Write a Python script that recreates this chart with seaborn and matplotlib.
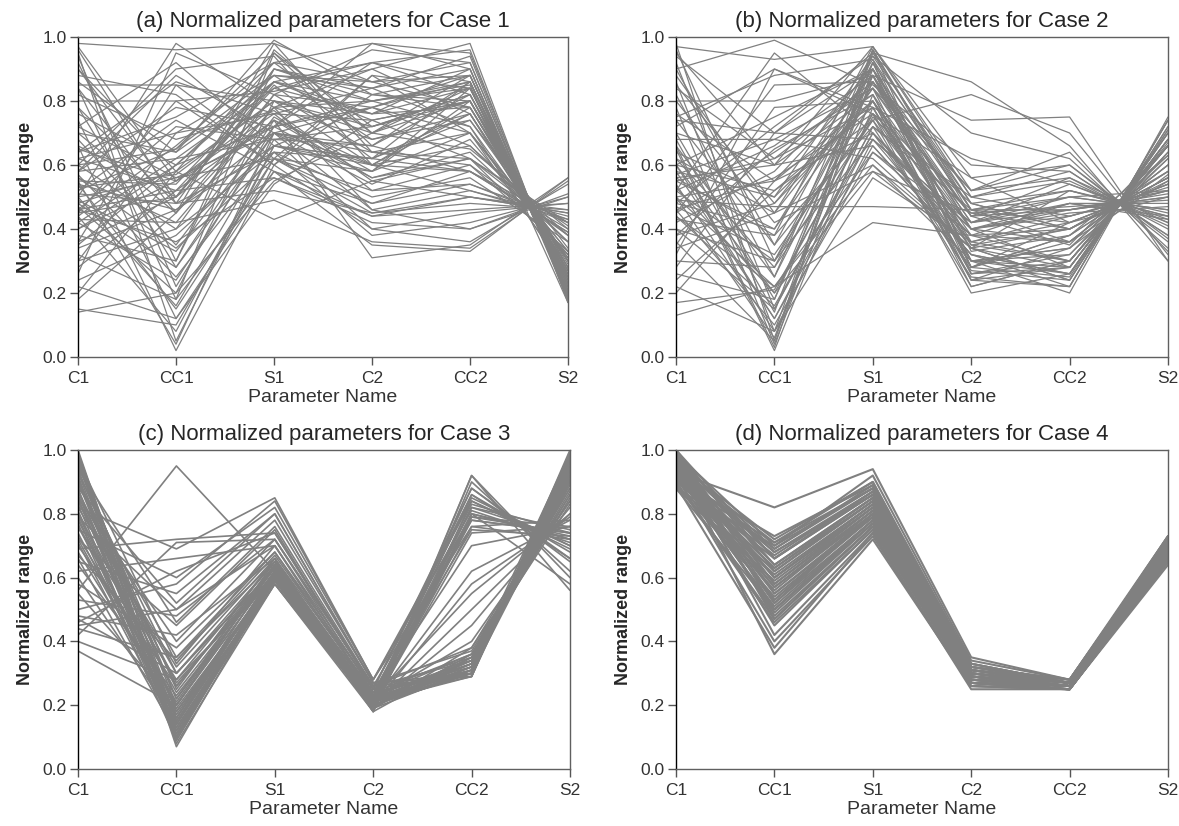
import matplotlib
matplotlib.use("Agg")
import matplotlib.pyplot as plt
import seaborn as sns
import pandas as pd

params = ["C1", "CC1", "S1", "C2", "CC2", "S2"]
titles = ["(a) Normalized parameters for Case 1",
          "(b) Normalized parameters for Case 2",
          "(c) Normalized parameters for Case 3",
          "(d) Normalized parameters for Case 4"]
yticks = [0.0, 0.2, 0.4, 0.6, 0.8, 1.0]

# one row per sample line: C1, CC1, S1, C2, CC2, S2
case1 = [
    [0.15, 0.10, 0.62, 0.45, 0.50, 0.45],
    [0.14, 0.20, 0.55, 0.70, 0.80, 0.30],
    [0.98, 0.96, 0.98, 0.86, 0.88, 0.22],
    [0.97, 0.55, 0.72, 0.98, 0.95, 0.19],
    [0.95, 0.05, 0.66, 0.60, 0.58, 0.39],
    [0.92, 0.30, 0.90, 0.80, 0.85, 0.17],
    [0.90, 0.50, 0.85, 0.62, 0.76, 0.27],
    [0.88, 0.82, 0.60, 0.40, 0.45, 0.48],
    [0.85, 0.85, 0.80, 0.76, 0.90, 0.18],
    [0.84, 0.18, 0.95, 0.72, 0.82, 0.24],
    [0.82, 0.68, 0.77, 0.55, 0.62, 0.42],
    [0.80, 0.80, 0.83, 0.90, 0.98, 0.17],
    [0.78, 0.28, 0.70, 0.46, 0.52, 0.44],
    [0.76, 0.60, 0.88, 0.84, 0.72, 0.25],
    [0.74, 0.12, 0.58, 0.35, 0.33, 0.56],
    [0.72, 0.92, 0.66, 0.78, 0.86, 0.21],
    [0.70, 0.45, 0.98, 0.64, 0.60, 0.33],
    [0.68, 0.35, 0.75, 0.58, 0.80, 0.26],
    [0.66, 0.02, 0.60, 0.82, 0.88, 0.20],
    [0.64, 0.75, 0.92, 0.70, 0.65, 0.40],
    [0.62, 0.52, 0.56, 0.42, 0.40, 0.51],
    [0.60, 0.40, 0.82, 0.96, 0.92, 0.19],
    [0.58, 0.88, 0.70, 0.60, 0.78, 0.27],
    [0.57, 0.25, 0.64, 0.50, 0.56, 0.36],
    [0.55, 0.54, 0.86, 0.76, 0.84, 0.23],
    [0.54, 0.15, 0.62, 0.88, 0.70, 0.31],
    [0.52, 0.65, 0.95, 0.66, 0.58, 0.39],
    [0.51, 0.48, 0.52, 0.45, 0.48, 0.46],
    [0.50, 0.98, 0.78, 0.80, 0.86, 0.21],
    [0.49, 0.33, 0.72, 0.56, 0.62, 0.32],
    [0.48, 0.58, 0.43, 0.55, 0.50, 0.45],
    [0.47, 0.20, 0.80, 0.72, 0.80, 0.25],
    [0.46, 0.72, 0.68, 0.40, 0.36, 0.54],
    [0.45, 0.50, 0.90, 0.84, 0.94, 0.18],
    [0.44, 0.08, 0.66, 0.62, 0.74, 0.34],
    [0.43, 0.42, 0.49, 0.36, 0.34, 0.55],
    [0.42, 0.62, 0.84, 0.92, 0.82, 0.24],
    [0.40, 0.55, 0.76, 0.52, 0.60, 0.38],
    [0.38, 0.30, 0.96, 0.70, 0.88, 0.20],
    [0.36, 0.85, 0.62, 0.48, 0.54, 0.42],
    [0.34, 0.46, 0.70, 0.78, 0.66, 0.38],
    [0.32, 0.18, 0.58, 0.44, 0.46, 0.48],
    [0.30, 0.70, 0.88, 0.86, 0.78, 0.27],
    [0.28, 0.52, 0.74, 0.31, 0.35, 0.56],
    [0.26, 0.95, 0.82, 0.64, 0.70, 0.26],
    [0.24, 0.38, 0.66, 0.58, 0.84, 0.23],
    [0.22, 0.12, 0.54, 0.74, 0.62, 0.41],
    [0.20, 0.58, 0.92, 0.98, 0.90, 0.19],
    [0.18, 0.45, 0.78, 0.68, 0.76, 0.28],
    [0.96, 0.48, 0.64, 0.38, 0.42, 0.50],
    [0.94, 0.22, 0.72, 0.92, 0.96, 0.18],
    [0.86, 0.64, 0.99, 0.82, 0.80, 0.25],
    [0.60, 0.90, 0.94, 0.60, 0.52, 0.43],
    [0.55, 0.04, 0.70, 0.54, 0.68, 0.32],
    [0.45, 0.80, 0.60, 0.88, 0.84, 0.22],
    [0.65, 0.55, 0.78, 0.46, 0.40, 0.50],
    [0.35, 0.60, 0.86, 0.80, 0.72, 0.30],
    [0.50, 0.16, 0.68, 0.66, 0.86, 0.21],
    [0.58, 0.62, 0.68, 0.72, 0.82, 0.28],
    [0.62, 0.70, 0.76, 0.84, 0.90, 0.20],
    [0.50, 0.56, 0.62, 0.58, 0.70, 0.33],
    [0.46, 0.52, 0.84, 0.76, 0.78, 0.30],
    [0.54, 0.46, 0.66, 0.62, 0.86, 0.24],
    [0.40, 0.60, 0.72, 0.80, 0.84, 0.25],
    [0.56, 0.42, 0.78, 0.90, 0.76, 0.30],
    [0.60, 0.65, 0.88, 0.68, 0.74, 0.31],
    [0.48, 0.28, 0.74, 0.56, 0.64, 0.36],
    [0.52, 0.74, 0.58, 0.48, 0.58, 0.42],
    [0.84, 0.45, 0.82, 0.78, 0.88, 0.23],
    [0.72, 0.56, 0.70, 0.64, 0.62, 0.38],
    [0.36, 0.50, 0.86, 0.74, 0.80, 0.27],
    [0.44, 0.66, 0.92, 0.86, 0.92, 0.20],
    [0.66, 0.50, 0.74, 0.60, 0.66, 0.36],
    [0.90, 0.58, 0.80, 0.70, 0.84, 0.26],
    [0.56, 0.34, 0.62, 0.52, 0.54, 0.43],
    [0.78, 0.48, 0.90, 0.82, 0.78, 0.29],
    [0.42, 0.24, 0.70, 0.66, 0.82, 0.25],
    [0.64, 0.86, 0.76, 0.74, 0.80, 0.28],
    [0.30, 0.40, 0.64, 0.62, 0.58, 0.40],
    [0.70, 0.64, 0.86, 0.92, 0.86, 0.22],
    [0.53, 0.57, 0.80, 0.60, 0.76, 0.30],
    [0.46, 0.36, 0.56, 0.44, 0.50, 0.46],
    [0.58, 0.78, 0.72, 0.78, 0.70, 0.33],
]

case2 = [
    [0.13, 0.22, 0.60, 0.30, 0.28, 0.68],
    [0.17, 0.21, 0.75, 0.45, 0.40, 0.56],
    [0.20, 0.55, 0.88, 0.35, 0.30, 0.66],
    [0.98, 0.05, 0.90, 0.28, 0.25, 0.71],
    [0.97, 0.93, 0.97, 0.50, 0.55, 0.41],
    [0.96, 0.30, 0.80, 0.40, 0.45, 0.47],
    [0.94, 0.70, 0.95, 0.86, 0.66, 0.30],
    [0.92, 0.15, 0.72, 0.25, 0.22, 0.74],
    [0.90, 0.99, 0.85, 0.60, 0.58, 0.38],
    [0.88, 0.45, 0.93, 0.33, 0.38, 0.58],
    [0.86, 0.08, 0.68, 0.42, 0.50, 0.52],
    [0.84, 0.62, 0.78, 0.27, 0.24, 0.72],
    [0.82, 0.25, 0.96, 0.46, 0.42, 0.54],
    [0.80, 0.80, 0.88, 0.74, 0.75, 0.30],
    [0.78, 0.04, 0.82, 0.22, 0.30, 0.66],
    [0.76, 0.55, 0.70, 0.38, 0.48, 0.43],
    [0.74, 0.35, 0.92, 0.30, 0.26, 0.70],
    [0.72, 0.90, 0.76, 0.56, 0.60, 0.36],
    [0.70, 0.18, 0.86, 0.44, 0.35, 0.66],
    [0.68, 0.68, 0.62, 0.34, 0.52, 0.44],
    [0.66, 0.03, 0.95, 0.48, 0.40, 0.56],
    [0.64, 0.50, 0.80, 0.26, 0.28, 0.68],
    [0.62, 0.28, 0.74, 0.82, 0.70, 0.32],
    [0.60, 0.75, 0.90, 0.40, 0.44, 0.52],
    [0.58, 0.12, 0.66, 0.32, 0.22, 0.74],
    [0.56, 0.60, 0.97, 0.52, 0.56, 0.40],
    [0.55, 0.40, 0.84, 0.24, 0.34, 0.57],
    [0.53, 0.20, 0.58, 0.45, 0.47, 0.49],
    [0.52, 0.95, 0.70, 0.36, 0.30, 0.66],
    [0.50, 0.06, 0.88, 0.28, 0.42, 0.54],
    [0.49, 0.47, 0.47, 0.46, 0.50, 0.46],
    [0.48, 0.72, 0.94, 0.70, 0.62, 0.34],
    [0.47, 0.32, 0.76, 0.20, 0.26, 0.70],
    [0.46, 0.10, 0.64, 0.38, 0.36, 0.55],
    [0.45, 0.85, 0.86, 0.42, 0.48, 0.48],
    [0.44, 0.22, 0.42, 0.38, 0.40, 0.56],
    [0.42, 0.58, 0.90, 0.30, 0.20, 0.75],
    [0.40, 0.15, 0.72, 0.50, 0.58, 0.38],
    [0.38, 0.65, 0.82, 0.26, 0.32, 0.64],
    [0.36, 0.05, 0.96, 0.44, 0.46, 0.50],
    [0.34, 0.45, 0.60, 0.34, 0.24, 0.72],
    [0.32, 0.90, 0.78, 0.62, 0.54, 0.42],
    [0.30, 0.28, 0.88, 0.28, 0.38, 0.63],
    [0.28, 0.70, 0.68, 0.40, 0.28, 0.68],
    [0.26, 0.18, 0.92, 0.48, 0.52, 0.44],
    [0.24, 0.52, 0.74, 0.22, 0.30, 0.66],
    [0.22, 0.08, 0.56, 0.36, 0.44, 0.52],
    [0.95, 0.60, 0.66, 0.32, 0.26, 0.70],
    [0.85, 0.48, 0.86, 0.52, 0.64, 0.33],
    [0.75, 0.88, 0.93, 0.46, 0.36, 0.60],
    [0.65, 0.02, 0.78, 0.30, 0.34, 0.62],
    [0.57, 0.68, 0.84, 0.44, 0.50, 0.46],
    [0.43, 0.38, 0.97, 0.56, 0.42, 0.54],
    [0.35, 0.78, 0.80, 0.24, 0.22, 0.74],
    [0.60, 0.12, 0.70, 0.40, 0.46, 0.50],
    [0.80, 0.42, 0.58, 0.34, 0.40, 0.56],
    [0.50, 0.55, 0.80, 0.35, 0.40, 0.55],
    [0.55, 0.62, 0.86, 0.42, 0.46, 0.52],
    [0.60, 0.20, 0.76, 0.30, 0.32, 0.62],
    [0.48, 0.40, 0.90, 0.46, 0.52, 0.45],
    [0.70, 0.60, 0.82, 0.38, 0.30, 0.64],
    [0.44, 0.16, 0.70, 0.28, 0.36, 0.60],
    [0.58, 0.50, 0.94, 0.50, 0.44, 0.53],
    [0.90, 0.35, 0.74, 0.34, 0.28, 0.68],
    [0.52, 0.66, 0.88, 0.44, 0.56, 0.42],
    [0.40, 0.30, 0.68, 0.32, 0.26, 0.68],
    [0.62, 0.45, 0.84, 0.40, 0.48, 0.44],
    [0.54, 0.08, 0.92, 0.26, 0.30, 0.66],
    [0.46, 0.56, 0.76, 0.48, 0.40, 0.58],
    [0.66, 0.25, 0.86, 0.36, 0.42, 0.50],
    [0.74, 0.70, 0.90, 0.30, 0.34, 0.63],
    [0.50, 0.22, 0.64, 0.42, 0.54, 0.43],
    [0.38, 0.48, 0.80, 0.34, 0.24, 0.71],
    [0.56, 0.38, 0.72, 0.46, 0.46, 0.51],
    [0.68, 0.14, 0.96, 0.28, 0.38, 0.58],
    [0.45, 0.64, 0.84, 0.52, 0.60, 0.37],
    [0.60, 0.52, 0.78, 0.24, 0.28, 0.67],
    [0.52, 0.30, 0.88, 0.40, 0.36, 0.60],
]

case3 = [
    [1.00, 0.10, 0.60, 0.20, 0.30, 0.95],
    [0.99, 0.15, 0.62, 0.22, 0.33, 0.92],
    [0.98, 0.08, 0.58, 0.19, 0.80, 0.72],
    [0.97, 0.20, 0.64, 0.21, 0.29, 1.00],
    [0.96, 0.12, 0.61, 0.23, 0.85, 0.70],
    [0.95, 0.25, 0.66, 0.18, 0.35, 0.90],
    [0.94, 0.18, 0.59, 0.20, 0.78, 0.74],
    [0.93, 0.30, 0.63, 0.24, 0.31, 0.97],
    [0.92, 0.09, 0.60, 0.22, 0.88, 0.66],
    [0.91, 0.22, 0.65, 0.19, 0.38, 0.88],
    [0.90, 0.14, 0.62, 0.21, 0.82, 0.75],
    [0.89, 0.35, 0.68, 0.25, 0.30, 0.94],
    [0.88, 0.11, 0.58, 0.20, 0.76, 0.78],
    [0.87, 0.27, 0.61, 0.23, 0.34, 0.85],
    [0.86, 0.16, 0.64, 0.18, 0.92, 0.60],
    [0.85, 0.40, 0.72, 0.26, 0.29, 0.99],
    [0.84, 0.19, 0.60, 0.22, 0.55, 0.80],
    [0.83, 0.10, 0.62, 0.20, 0.32, 0.93],
    [0.82, 0.32, 0.66, 0.24, 0.80, 0.73],
    [0.81, 0.13, 0.59, 0.19, 0.36, 0.87],
    [0.80, 0.24, 0.63, 0.21, 0.86, 0.68],
    [0.79, 0.50, 0.78, 0.27, 0.30, 0.96],
    [0.78, 0.17, 0.61, 0.22, 0.40, 0.84],
    [0.77, 0.09, 0.60, 0.20, 0.74, 0.76],
    [0.76, 0.28, 0.65, 0.23, 0.33, 0.91],
    [0.75, 0.60, 0.82, 0.28, 0.84, 0.70],
    [0.74, 0.14, 0.62, 0.19, 0.31, 0.98],
    [0.73, 0.21, 0.64, 0.21, 0.62, 0.78],
    [0.72, 0.45, 0.75, 0.25, 0.35, 0.89],
    [0.71, 0.12, 0.58, 0.18, 0.90, 0.62],
    [0.70, 0.26, 0.63, 0.22, 0.29, 0.95],
    [0.69, 0.72, 0.74, 0.26, 0.78, 0.74],
    [0.68, 0.18, 0.60, 0.20, 0.45, 0.82],
    [0.67, 0.34, 0.67, 0.24, 0.32, 0.90],
    [0.66, 0.11, 0.61, 0.19, 0.82, 0.72],
    [0.65, 0.55, 0.80, 0.27, 0.37, 0.86],
    [0.64, 0.23, 0.62, 0.21, 0.30, 0.97],
    [0.62, 0.66, 0.70, 0.25, 0.88, 0.65],
    [0.60, 0.15, 0.59, 0.20, 0.34, 0.92],
    [0.58, 0.38, 0.68, 0.23, 0.70, 0.76],
    [0.56, 0.95, 0.62, 0.22, 0.31, 0.94],
    [0.55, 0.20, 0.64, 0.19, 0.80, 0.58],
    [0.53, 0.48, 0.72, 0.24, 0.36, 0.88],
    [0.50, 0.58, 0.84, 0.28, 0.76, 0.72],
    [0.48, 0.42, 0.66, 0.21, 0.33, 0.99],
    [0.47, 0.30, 0.63, 0.20, 0.50, 0.80],
    [0.46, 0.62, 0.74, 0.25, 0.86, 0.66],
    [0.45, 0.50, 0.70, 0.23, 0.30, 0.93],
    [0.44, 0.35, 0.65, 0.22, 0.79, 0.74],
    [0.42, 0.71, 0.72, 0.26, 0.38, 0.84],
    [0.40, 0.28, 0.60, 0.19, 0.92, 0.56],
    [0.37, 0.20, 0.62, 0.21, 0.32, 0.96],
    [0.99, 0.07, 0.60, 0.20, 0.31, 0.99],
    [0.97, 0.33, 0.70, 0.23, 0.75, 0.73],
    [0.94, 0.46, 0.76, 0.26, 0.34, 0.90],
    [0.91, 0.16, 0.61, 0.18, 0.84, 0.69],
    [0.88, 0.52, 0.80, 0.27, 0.29, 0.98],
    [0.85, 0.13, 0.60, 0.20, 0.58, 0.79],
    [0.82, 0.69, 0.85, 0.28, 0.81, 0.71],
    [0.79, 0.10, 0.59, 0.21, 0.35, 0.91],
    [0.96, 0.22, 0.63, 0.21, 0.32, 0.94],
    [0.93, 0.14, 0.60, 0.20, 0.30, 0.90],
    [0.90, 0.26, 0.64, 0.22, 0.34, 0.86],
    [0.87, 0.18, 0.61, 0.21, 0.31, 0.96],
    [0.84, 0.30, 0.65, 0.23, 0.36, 0.83],
    [0.80, 0.12, 0.60, 0.19, 0.79, 0.76],
    [0.76, 0.20, 0.62, 0.22, 0.83, 0.74],
    [0.72, 0.16, 0.61, 0.20, 0.33, 0.92],
]

case4 = [
    [1.00, 0.62, 0.84, 0.30, 0.27, 0.70],
    [0.99, 0.55, 0.80, 0.28, 0.26, 0.68],
    [0.99, 0.70, 0.88, 0.32, 0.27, 0.72],
    [0.98, 0.48, 0.76, 0.27, 0.25, 0.66],
    [0.98, 0.66, 0.86, 0.31, 0.28, 0.71],
    [0.97, 0.58, 0.82, 0.29, 0.26, 0.69],
    [0.97, 0.36, 0.72, 0.26, 0.25, 0.65],
    [0.96, 0.72, 0.90, 0.33, 0.27, 0.73],
    [0.96, 0.52, 0.78, 0.28, 0.26, 0.67],
    [0.95, 0.64, 0.85, 0.30, 0.27, 0.70],
    [0.95, 0.45, 0.75, 0.27, 0.25, 0.66],
    [0.94, 0.60, 0.83, 0.29, 0.26, 0.69],
    [0.94, 0.68, 0.87, 0.32, 0.28, 0.72],
    [0.93, 0.50, 0.77, 0.28, 0.25, 0.67],
    [0.93, 0.82, 0.94, 0.35, 0.28, 0.73],
    [0.92, 0.56, 0.81, 0.29, 0.26, 0.68],
    [0.92, 0.40, 0.73, 0.26, 0.25, 0.65],
    [0.91, 0.73, 0.89, 0.31, 0.27, 0.71],
    [0.91, 0.62, 0.84, 0.30, 0.26, 0.70],
    [0.90, 0.47, 0.76, 0.27, 0.25, 0.66],
    [0.90, 0.66, 0.86, 0.31, 0.27, 0.71],
    [0.89, 0.54, 0.79, 0.28, 0.26, 0.68],
    [0.89, 0.38, 0.74, 0.25, 0.25, 0.64],
    [0.88, 0.70, 0.92, 0.34, 0.28, 0.72],
    [0.88, 0.59, 0.82, 0.29, 0.26, 0.69],
    [1.00, 0.50, 0.78, 0.27, 0.26, 0.67],
    [0.99, 0.64, 0.85, 0.31, 0.27, 0.70],
    [0.98, 0.42, 0.74, 0.26, 0.25, 0.65],
    [0.97, 0.69, 0.88, 0.32, 0.28, 0.72],
    [0.96, 0.57, 0.81, 0.29, 0.26, 0.68],
    [0.95, 0.71, 0.90, 0.33, 0.27, 0.73],
    [0.94, 0.49, 0.77, 0.27, 0.25, 0.66],
    [0.93, 0.63, 0.84, 0.30, 0.27, 0.70],
    [0.92, 0.53, 0.80, 0.28, 0.26, 0.68],
    [0.91, 0.67, 0.87, 0.31, 0.27, 0.71],
    [0.90, 0.46, 0.75, 0.27, 0.25, 0.66],
    [0.89, 0.61, 0.83, 0.30, 0.26, 0.69],
    [0.97, 0.53, 0.79, 0.28, 0.26, 0.67],
    [0.95, 0.60, 0.82, 0.29, 0.27, 0.69],
    [0.93, 0.57, 0.80, 0.28, 0.26, 0.68],
    [0.91, 0.51, 0.78, 0.27, 0.26, 0.67],
    [0.99, 0.58, 0.81, 0.29, 0.26, 0.69],
    [1.00, 0.66, 0.87, 0.31, 0.27, 0.71],
    [0.99, 0.47, 0.76, 0.27, 0.26, 0.66],
    [0.98, 0.60, 0.83, 0.30, 0.26, 0.69],
    [0.96, 0.68, 0.86, 0.32, 0.27, 0.72],
    [0.94, 0.55, 0.79, 0.28, 0.26, 0.68],
    [0.92, 0.63, 0.85, 0.30, 0.27, 0.70],
    [0.90, 0.71, 0.88, 0.31, 0.27, 0.72],
    [0.88, 0.50, 0.77, 0.27, 0.25, 0.66],
    [0.95, 0.52, 0.80, 0.29, 0.26, 0.68],
    [0.93, 0.69, 0.89, 0.33, 0.27, 0.72],
]

cases = [case1, case2, case3, case4]
widths = [0.9, 0.9, 1.2, 1.5]


def to_long(rows):
    df = pd.DataFrame(rows, columns=params)
    df["line"] = range(len(df))
    df = df.melt(id_vars="line", var_name="param", value_name="value")
    df["pos"] = df["param"].map({p: i for i, p in enumerate(params)})
    return df


sns.set_style("ticks")
plt.rcParams["font.family"] = ["Liberation Sans", "DejaVu Sans"]

fig = plt.figure(figsize=(11.79, 8.26), dpi=100)
W, H = 1179, 826
# panel boxes in pixels: left, top, right, bottom
boxes = [(78, 37, 568, 357), (676, 37, 1168, 357),
         (78, 450, 570, 769), (676, 450, 1168, 769)]

for rows, title, box, lw in zip(cases, titles, boxes, widths):
    l, t, r, b = box
    ax = fig.add_axes([l / W, 1 - b / H, (r - l) / W, (b - t) / H])
    df = to_long(rows)
    sns.lineplot(data=df, x="pos", y="value", units="line", estimator=None,
                 color="#808080", linewidth=lw, sort=True, ax=ax)
    ax.set_xlim(0, 5)
    ax.set_ylim(0, 1)
    ax.set_xticks(range(len(params)))
    ax.set_xticklabels(params)
    ax.set_yticks(yticks)
    ax.set_yticklabels([f"{v:.1f}" for v in yticks])
    ax.tick_params(axis="both", direction="out", length=6, width=1,
                   labelsize=12.5, labelcolor="#333333", color="#555555")
    ax.tick_params(axis="x", pad=4)
    ax.tick_params(axis="y", pad=2)
    ax.set_title(title, fontsize=16, pad=7)
    ax.set_xlabel("Parameter Name", fontsize=14, color="#333333", labelpad=2)
    ax.set_ylabel("Normalized range", fontsize=13, fontweight="bold", labelpad=6)
    for side in ["top", "right", "bottom"]:
        ax.spines[side].set_color("#606060")
    ax.spines["left"].set_color("black")
    for sp in ax.spines.values():
        sp.set_linewidth(1.0)

fig.savefig("out.png", dpi=100)
